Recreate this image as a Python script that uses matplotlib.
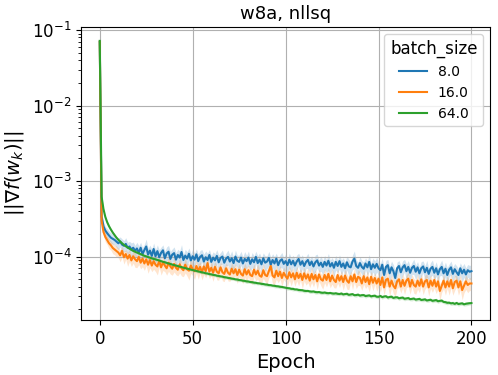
import numpy as np
import matplotlib
matplotlib.use("Agg")
import matplotlib.pyplot as plt

epochs = np.arange(0, 201)
batch_sizes = ["8.0", "16.0", "64.0"]

# gradient norm per epoch, in units of 1e-6
grad_bs8 = [
    70000, 340, 252, 221, 204, 190, 178, 172, 166, 158,
    150, 158, 144, 139, 147, 131, 136, 124, 131, 119,
    128, 112, 131, 108, 122, 136, 106, 120, 102, 126,
    101, 118, 98, 112, 121, 95, 110, 116, 93, 106,
    111, 91, 105, 97, 115, 90, 103, 94, 109, 89,
    101, 91, 107, 87, 99, 104, 86, 98, 90, 105,
    85, 97, 89, 102, 84, 96, 100, 83, 94, 99,
    86, 95, 82, 100, 88, 85, 97, 81, 93, 87,
    97, 80, 92, 84, 99, 82, 91, 79, 95, 83,
    86, 96, 78, 90, 81, 94, 77, 88, 92, 80,
    87, 77, 91, 79, 88, 76, 86, 93, 78, 87,
    75, 85, 90, 77, 86, 74, 84, 89, 76, 83,
    73, 85, 76, 88, 74, 82, 71, 85, 75, 87,
    73, 81, 70, 84, 74, 72, 86, 94, 75, 71,
    82, 73, 69, 81, 72, 85, 68, 79, 71, 80,
    70, 66, 78, 57, 73, 77, 60, 72, 64, 52,
    70, 75, 62, 72, 77, 64, 73, 61, 71, 75,
    63, 72, 60, 70, 74, 62, 71, 59, 69, 73,
    61, 70, 58, 68, 73, 60, 69, 57, 67, 72,
    59, 68, 62, 57, 70, 60, 67, 58, 66, 63,
    64,
]
grad_bs16 = [
    70000, 300, 212, 182, 165, 150, 141, 130, 124, 118,
    113, 104, 119, 98, 108, 94, 105, 89, 101, 92,
    87, 99, 83, 94, 81, 92, 78, 90, 76, 87,
    78, 74, 88, 72, 84, 76, 70, 83, 74, 69,
    80, 71, 67, 79, 70, 66, 78, 68, 65, 76,
    68, 64, 75, 65, 73, 62, 74, 64, 82, 63,
    71, 61, 73, 63, 60, 72, 62, 59, 70, 61,
    58, 69, 60, 68, 57, 67, 59, 56, 68, 58,
    66, 57, 55, 67, 58, 65, 56, 54, 66, 57,
    55, 64, 75, 56, 53, 65, 55, 63, 52, 61,
    55, 51, 62, 53, 60, 50, 61, 52, 59, 49,
    60, 51, 58, 48, 59, 50, 57, 47, 58, 50,
    48, 57, 49, 59, 47, 56, 49, 46, 57, 48,
    55, 46, 56, 48, 45, 55, 47, 58, 46, 54,
    52, 44, 55, 46, 53, 43, 54, 45, 52, 44,
    51, 42, 53, 39, 49, 51, 40, 48, 41, 38,
    47, 50, 40, 49, 41, 48, 51, 40, 49, 42,
    40, 48, 41, 50, 40, 47, 49, 39, 48, 41,
    49, 40, 47, 35, 41, 48, 39, 47, 40, 49,
    38, 46, 48, 39, 47, 36, 41, 47, 42, 44,
    44,
]
grad_bs64 = [
    72000, 620, 425, 335, 285, 252, 228, 208, 192, 178,
    167, 158, 150, 143, 137, 132, 127, 123, 119, 116,
    113, 110, 107.5, 105, 102.5, 100.5, 98.5, 96.5, 95, 93,
    92, 90.2, 88.8, 86.9, 85.5, 83.9, 82.6, 81.0, 79.9, 78.3,
    77.2, 75.9, 74.9, 73.5, 72.6, 71.3, 70.4, 69.2, 68.4, 67.1,
    66.3, 65.2, 64.6, 63.4, 62.8, 61.7, 61.2, 60.1, 59.6, 58.6,
    58.1, 57.2, 56.8, 55.8, 55.4, 54.6, 54.2, 53.3, 52.9, 52.2,
    51.8, 51.0, 50.7, 49.9, 49.6, 48.9, 48.6, 47.9, 47.6, 46.9,
    46.7, 46.0, 45.8, 45.1, 44.9, 44.3, 44.1, 43.5, 43.3, 42.7,
    42.5, 41.9, 41.8, 41.2, 41.0, 40.5, 40.3, 39.8, 39.6, 39.1,
    38.7, 38.2, 38.0, 37.4, 37.3, 36.7, 36.7, 36.1, 35.9, 35.8,
    35.2, 35.0, 35.1, 34.5, 34.3, 34.5, 33.9, 33.7, 33.9, 33.3,
    33.1, 33.4, 32.9, 32.7, 33.0, 32.5, 32.3, 32.6, 32.1, 31.9,
    32.4, 31.5, 31.9, 32.1, 31.1, 31.4, 31.8, 30.8, 30.9, 31.3,
    30.4, 30.8, 30.9, 30.0, 30.3, 30.6, 29.7, 30.1, 30.3, 29.4,
    29.3, 30.1, 29.0, 29.6, 29.8, 28.7, 29.2, 29.4, 28.3, 28.8,
    28.9, 28.0, 28.4, 28.6, 27.6, 27.9, 28.2, 27.3, 27.5, 27.8,
    26.9, 27.2, 27.5, 26.6, 26.8, 27.1, 26.2, 26.5, 26.8, 25.9,
    26.2, 26.5, 25.6, 25.9, 26.1, 25.1, 24.9, 24.4, 24.5, 24.0,
    24.2, 23.6, 24.3, 23.5, 23.8, 24.0, 23.3, 23.7, 23.9, 24.1,
    24.2,
]

# half-width of the shaded band, percent of the mean
spread_bs8 = [
    5, 12, 14, 13, 15, 14, 16, 15, 14, 17,
    18, 15, 19, 17, 21, 18, 17, 22, 19, 18,
    21, 24, 18, 22, 19, 25, 21, 18, 23, 20,
    22, 21, 25, 19, 18, 23, 22, 21, 26, 19,
    21, 24, 19, 22, 25, 18, 21, 23, 19, 22,
    25, 21, 18, 23, 22, 19, 25, 21, 23, 18,
    22, 19, 23, 21, 25, 18, 22, 21, 19, 23,
    21, 25, 19, 22, 18, 23, 21, 22, 25, 19,
    22, 18, 23, 21, 19, 25, 22, 21, 18, 23,
    19, 22, 25, 21, 23, 18, 22, 19, 23, 21,
    25, 19, 22, 21, 18, 23, 22, 19, 25, 21,
    22, 18, 23, 21, 19, 22, 25, 21, 18, 23,
    21, 22, 19, 25, 21, 18, 23, 22, 19, 21,
    23, 19, 22, 21, 25, 18, 22, 26, 21, 19,
    22, 21, 23, 18, 22, 25, 19, 21, 23, 22,
    19, 23, 21, 25, 22, 19, 23, 21, 22, 25,
    21, 18, 23, 22, 19, 25, 21, 22, 18, 23,
    22, 19, 21, 23, 18, 22, 25, 19, 21, 23,
    19, 22, 21, 18, 23, 21, 22, 25, 19, 21,
    23, 19, 22, 21, 18, 23, 21, 22, 19, 21,
    21,
]
spread_bs16 = [
    5, 11, 12, 14, 13, 15, 14, 16, 15, 17,
    15, 18, 17, 19, 15, 21, 18, 17, 19, 22,
    18, 21, 17, 22, 19, 18, 23, 21, 17, 22,
    19, 23, 18, 21, 22, 17, 19, 23, 21, 18,
    22, 19, 17, 23, 21, 18, 22, 19, 25, 21,
    18, 22, 19, 23, 17, 21, 22, 18, 26, 19,
    21, 23, 18, 22, 19, 17, 23, 21, 18, 22,
    19, 22, 21, 18, 23, 19, 17, 22, 21, 23,
    18, 21, 22, 19, 17, 23, 21, 18, 22, 19,
    21, 18, 25, 22, 19, 23, 18, 21, 22, 19,
    17, 22, 21, 23, 18, 19, 22, 21, 17, 23,
    21, 18, 22, 19, 23, 21, 17, 22, 19, 18,
    23, 21, 19, 22, 18, 23, 21, 17, 22, 19,
    18, 22, 21, 23, 19, 17, 22, 21, 18, 23,
    21, 19, 22, 18, 23, 21, 19, 22, 17, 21,
    22, 19, 23, 21, 18, 22, 25, 19, 21, 23,
    19, 22, 18, 21, 23, 19, 22, 21, 18, 22,
    21, 23, 19, 18, 22, 21, 19, 23, 21, 18,
    22, 19, 21, 25, 18, 22, 21, 19, 23, 21,
    19, 22, 18, 21, 23, 26, 19, 22, 21, 19,
    21,
]
spread_bs64 = [
    4, 5, 4, 4, 3, 4, 3, 4, 3, 3,
    3, 4, 3, 3, 4, 3, 4, 3, 3, 4,
    4, 3, 4, 4, 3, 4, 3, 4, 4, 3,
    4, 4, 3, 4, 4, 5, 4, 3, 4, 4,
    4, 5, 4, 4, 3, 4, 5, 4, 4, 5,
    4, 4, 5, 4, 5, 4, 4, 5, 4, 5,
    5, 4, 5, 4, 5, 5, 4, 5, 5, 4,
    5, 5, 4, 5, 6, 5, 4, 5, 5, 6,
    5, 4, 5, 6, 5, 5, 4, 6, 5, 5,
    6, 5, 5, 4, 6, 5, 5, 6, 5, 4,
    5, 6, 5, 5, 6, 4, 5, 6, 5, 5,
    6, 5, 4, 6, 5, 5, 6, 5, 5, 6,
    5, 5, 6, 5, 4, 6, 5, 6, 5, 5,
    6, 5, 5, 6, 5, 6, 5, 5, 6, 5,
    5, 6, 5, 6, 5, 5, 6, 5, 6, 5,
    6, 5, 6, 5, 5, 6, 5, 6, 5, 6,
    5, 6, 5, 6, 6, 5, 6, 5, 6, 5,
    6, 5, 6, 5, 6, 6, 5, 6, 5, 6,
    5, 6, 6, 5, 6, 5, 6, 6, 5, 6,
    6, 5, 6, 6, 5, 6, 5, 6, 6, 5,
    6,
]

series = [grad_bs8, grad_bs16, grad_bs64]
spreads = [spread_bs8, spread_bs16, spread_bs64]
colors = ["tab:blue", "tab:orange", "tab:green"]

fig, ax = plt.subplots(figsize=(4.98, 3.75), dpi=100)
fig.subplots_adjust(left=0.163, right=0.984, top=0.928, bottom=0.147)

for vals, sp, c, lab in zip(series, spreads, colors, batch_sizes):
    m = np.array(vals) * 1e-6
    s = np.array(sp) / 100.0
    ax.fill_between(epochs, m * (1 - s), m * (1 + s), color=c, alpha=0.2, linewidth=0)
    ax.plot(epochs, m, color=c, linewidth=1.5, label=lab)

ax.set_yscale("log")
ax.set_xlim(-10, 210)
ax.set_ylim(1.45e-5, 0.11)
ax.set_xticks([0, 50, 100, 150, 200])
ax.grid(True, which="major", color="#b0b0b0", linewidth=0.8)
ax.tick_params(axis="both", labelsize=12)
ax.set_xlabel("Epoch", fontsize=14)
ax.set_ylabel(r"$||\nabla f(w_k)||$", fontsize=14)
ax.set_title("w8a, nllsq", fontsize=13)
ax.legend(title="batch_size", loc="upper right", fontsize=10, title_fontsize=12)

fig.savefig("out.png", dpi=100)
